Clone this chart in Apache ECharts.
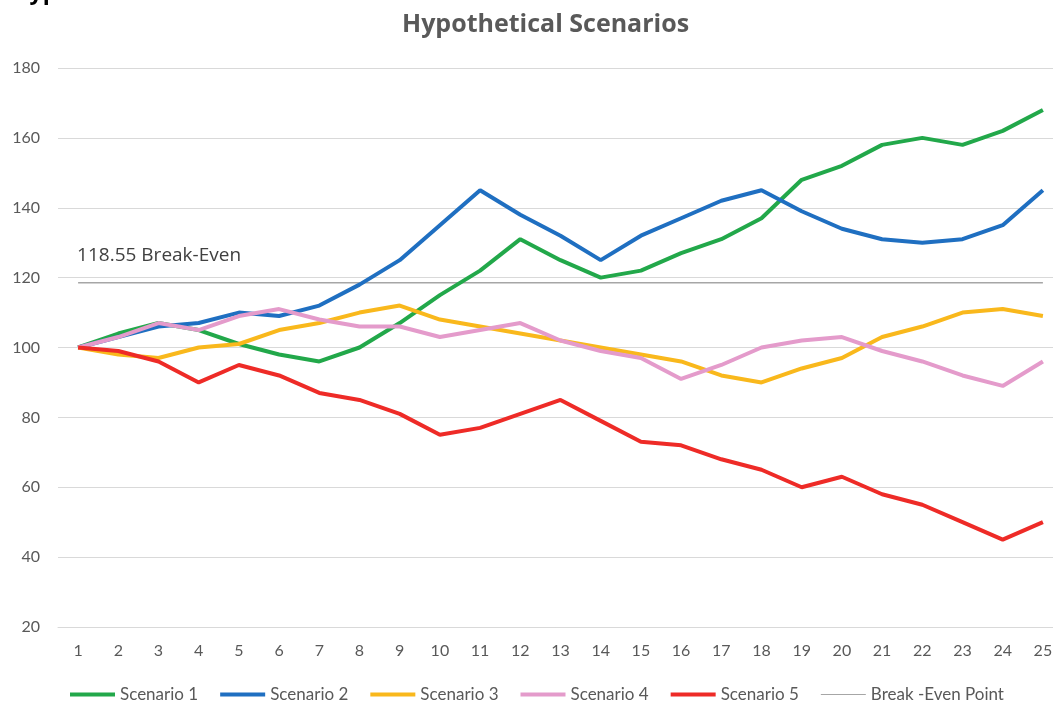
<!DOCTYPE html>
<html>
<head>
    <meta charset="UTF-8">
    <title>Hypothetical Scenarios</title>
    <script type="text/javascript" src="https://cdn.jsdelivr.net/npm/echarts@6/dist/echarts.min.js"></script>
    <style>
        body,html{
            margin: 0;
            width: 100%;
            height: 100%;
            background: #fff;
        }
        #chart{
            width: 1053px;
            height: 702px;
        }
    </style>
</head>
<body>
<div id="chart"></div>
<script>
    // periods 1..25
    var periods = ['1','2','3','4','5','6','7','8','9','10','11','12','13','14','15','16','17','18','19','20','21','22','23','24','25'];

    var scenario1 = [100,104,107,105,101,98,96,100,107,115,122,131,125,120,122,127,131,137,148,152,158,160,158,162,168];
    var scenario2 = [100,103,106,107,110,109,112,118,125,135,145,138,132,125,132,137,142,145,139,134,131,130,131,135,145];
    var scenario3 = [100,98,97,100,101,105,107,110,112,108,106,104,102,100,98,96,92,90,94,97,103,106,110,111,109];
    var scenario4 = [100,103,107,105,109,111,108,106,106,103,105,107,102,99,97,91,95,100,102,103,99,96,92,89,96];
    var scenario5 = [100,99,96,90,95,92,87,85,81,75,77,81,85,79,73,72,68,65,60,63,58,55,50,45,50];
    var breakEven = [118.55,118.55,118.55,118.55,118.55,118.55,118.55,118.55,118.55,118.55,118.55,118.55,118.55,
                     118.55,118.55,118.55,118.55,118.55,118.55,118.55,118.55,118.55,118.55,118.55,118.55];

    var seriesNames = ['Scenario 1','Scenario 2','Scenario 3','Scenario 4','Scenario 5','Break -Even Point'];
    var seriesColors = ['#22a84a','#1f6fc1','#f9b81c','#e49bcb','#ee2b27','#a6a6a6'];
    var seriesData = [scenario1, scenario2, scenario3, scenario4, scenario5, breakEven];

    var labelFont = 'Lato, "Liberation Sans", sans-serif';

    var series = [];
    var legendData = [];
    for (var i = 0; i < seriesData.length; i++) {
        var isBE = i === 5;
        var s = {
            name: seriesNames[i],
            type: 'line',
            data: seriesData[i],
            symbol: 'none',
            smooth: false,
            z: isBE ? 1 : 2 + i,
            lineStyle: { width: isBE ? 1.5 : 4, color: seriesColors[i] },
            itemStyle: { color: seriesColors[i] }
        };
        if (isBE) {
            // label on the first point only
            s.symbol = 'circle';
            s.symbolSize = 0;
            s.showSymbol = true;
            var d = seriesData[i].slice();
            d[0] = {
                value: d[0],
                label: {
                    show: true,
                    position: 'top',
                    align: 'left',
                    offset: [-1, -13],
                    formatter: '118.55 Break-Even',
                    fontSize: 19,
                    color: '#404040',
                    fontFamily: '"Open Sans", sans-serif'
                }
            };
            s.data = d;
        }
        series.push(s);
        legendData.push({
            name: seriesNames[i],
            icon: isBE ? 'path://M0,0L45,0L45,1L0,1Z' : 'rect'
        });
    }

    var chart = echarts.init(document.getElementById('chart'), null, { renderer: 'canvas' });
    var option = {
        animation: false,
        backgroundColor: '#ffffff',
        title: {
            text: 'Hypothetical Scenarios',
            left: 397,
            top: 7,
            textStyle: {
                fontFamily: '"Open Sans", sans-serif',
                fontWeight: 'bold',
                fontSize: 25,
                color: '#595959'
            }
        },
        graphic: [{
            // clipped heading from the page above
            type: 'text',
            x: 12,
            y: 4,
            style: {
                text: 'Hypothetical Scenarios',
                fontFamily: '"Open Sans", sans-serif',
                fontWeight: 'bold',
                fontSize: 23,
                verticalAlign: 'bottom',
                fill: '#000'
            }
        }],
        grid: {
            left: 58,
            width: 1005,
            top: 68,
            bottom: 75,
            outerBoundsMode: 'none'
        },
        legend: {
            data: legendData,
            left: 65,
            top: 681,
            itemWidth: 45,
            itemHeight: 4,
            itemGap: 22,
            textStyle: {
                fontFamily: labelFont,
                fontSize: 17,
                color: '#595959'
            }
        },
        xAxis: {
            type: 'category',
            data: periods,
            boundaryGap: true,
            axisLine: { show: true, lineStyle: { color: '#d9d9d9' } },
            axisTick: { show: false },
            axisLabel: {
                margin: 16,
                fontFamily: labelFont,
                fontSize: 16,
                color: '#595959'
            }
        },
        yAxis: {
            type: 'value',
            min: 20,
            max: 180,
            interval: 20,
            axisLine: { show: false },
            axisTick: { show: false },
            splitLine: { lineStyle: { color: '#d9d9d9', width: 1 } },
            axisLabel: {
                margin: 18,
                fontFamily: labelFont,
                fontSize: 16,
                color: '#595959'
            }
        },
        series: series
    };
    chart.setOption(option);
</script>
</body>
</html>
